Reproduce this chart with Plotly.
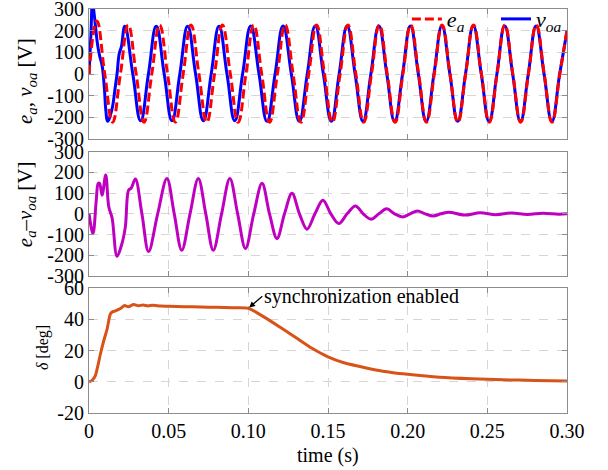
import plotly.graph_objects as go

# ---------------- data ----------------
# e_a (grid voltage) extrema / zero crossings
ea_t = [0, 0.0049, 0.0099, 0.0148, 0.0197, 0.0246, 0.0296, 0.0345, 0.0394, 0.0443,
        0.0493, 0.0542, 0.0591, 0.0640, 0.0690, 0.0739, 0.0788, 0.0837, 0.0887, 0.0936,
        0.0985, 0.1034, 0.1084, 0.1133, 0.1182, 0.1231, 0.1281, 0.1330, 0.1379, 0.1428,
        0.1478, 0.1527, 0.1576, 0.1625, 0.1675, 0.1724, 0.1773, 0.1822, 0.1872, 0.1921,
        0.1970, 0.2019, 0.2069, 0.2118, 0.2167, 0.2216, 0.2266, 0.2315, 0.2364, 0.2413,
        0.2463, 0.2512, 0.2561, 0.2610, 0.2660, 0.2709, 0.2758, 0.2807, 0.2857, 0.2906,
        0.2955, 0.3000]
ea_v = [0, 245, 0, -222,
        0, 226, 0, -222,
        0, 226, 0, -222,
        0, 226, 0, -222,
        0, 226, 0, -222,
        0, 226, 0, -222,
        0, 226, 0, -222,
        0, 226, 0, -222,
        0, 226, 0, -222,
        0, 226, 0, -222,
        0, 226, 0, -222,
        0, 226, 0, -222,
        0, 226, 0, -222,
        0, 226, 0, -222,
        0, 226, 0, -222,
        0, 200]

# v_oa (inverter voltage)
voa_t = [0, 0.0012, 0.0022, 0.0032, 0.0042, 0.0055, 0.0068, 0.0082, 0.0096, 0.0106,
         0.0117, 0.0132, 0.0148, 0.0163, 0.0176, 0.0190, 0.0203, 0.0225,
         0.0275, 0.0324, 0.0373, 0.0422, 0.0472, 0.0521, 0.0570, 0.0619, 0.0669, 0.0718,
         0.0767, 0.0816, 0.0866, 0.0915,
         0.0964, 0.1015, 0.1067, 0.1117, 0.1168, 0.1218, 0.1270, 0.1320, 0.1370, 0.1420,
         0.1471, 0.1521, 0.1570, 0.1620, 0.1670, 0.1720, 0.1769, 0.1819, 0.1869, 0.1918,
         0.1968, 0.2017, 0.2067, 0.2116, 0.2165, 0.2215, 0.2265, 0.2314, 0.2363, 0.2412,
         0.2462, 0.2511, 0.2560, 0.2609, 0.2659, 0.2708, 0.2757, 0.2806, 0.2856, 0.2905,
         0.2954, 0.3000]
voa_v = [0, 180, 330, 280, 210, 130, 80, 40, -60, -170,
         -218, -195, -150, -70, 0, 95, 125, 220,
         0, -215, 0, 220, 0, -215, 0, 220, 0, -215,
         0, 220, 0, -215,
         0, 222, 0, -218,
         0, 222, 0, -218,
         0, 222, 0, -218,
         0, 222, 0, -218,
         0, 222, 0, -218,
         0, 222, 0, -218,
         0, 222, 0, -218,
         0, 222, 0, -218,
         0, 222, 0, -218,
         0, 222, 0, -218,
         0, 200]

# e_a - v_oa
diff_t = [0, 0.0025, 0.0045, 0.0058, 0.0066, 0.0082, 0.0105, 0.0124, 0.0145, 0.0176,
          0.0207, 0.0228, 0.0249, 0.0264, 0.0291, 0.0332, 0.0374, 0.0431, 0.0489, 0.0535,
          0.0582, 0.0634, 0.0686, 0.0733, 0.0780, 0.0832, 0.0884, 0.0933, 0.0982, 0.1034,
          0.1086, 0.1133, 0.1180, 0.1227, 0.1274, 0.1321, 0.1368, 0.1418, 0.1468, 0.1518,
          0.1568, 0.1620, 0.1672, 0.1721, 0.1770, 0.1819, 0.1868, 0.1918, 0.1968, 0.2015,
          0.2061, 0.2110, 0.2160, 0.2209, 0.2258, 0.2357, 0.2455, 0.2554, 0.2652, 0.2751,
          0.2849, 0.2948, 0.3000]
diff_v = [0, -95, 60, 147, 148, 90, 187, 34, -20, -205,
          -143, -63, 115, 123, 168, 0, -182, 0, 170, 0,
          -176, 0, 170, 0, -176, 0, 170, 0, -167, 0,
          147, 0, -119, 0, 99, 0, -74, 0, 66, 0,
          -47, 0, 38, 0, -26, 0, 24, 0, -15, 0,
          14, 0, -10, 0, 8, -6, 5, -4, 4, -3,
          3, -2, 0]

# power angle delta [deg]
delta_t = [0, 0.002, 0.004, 0.0055, 0.0072, 0.0093, 0.0114, 0.0134, 0.0150, 0.0166,
           0.0197, 0.0222, 0.0247, 0.0280, 0.031, 0.034, 0.037, 0.040, 0.045, 0.05,
           0.06, 0.07, 0.08, 0.09, 0.10, 0.11, 0.12, 0.13, 0.14, 0.15,
           0.16, 0.17, 0.18, 0.19, 0.20, 0.22, 0.24, 0.26, 0.28, 0.30]
delta_v = [0, 1, 4, 10, 18, 26.5, 34, 43.5, 45, 45.5,
           47, 49, 48.2, 49.6, 48.8, 49.3, 48.7, 49.1, 48.6, 48.5,
           48.2, 48, 47.8, 47.5, 47.2, 41.5, 35, 28.3, 21.5, 16,
           12.2, 9.8, 7.6, 6, 4.8, 2.9, 1.9, 1.3, 0.9, 0.6]

x_ticks = [0, 0.05, 0.10, 0.15, 0.20, 0.25, 0.30]
x_tick_text = ['0', '0.05', '0.10', '0.15', '0.20', '0.25', '0.30']
v_ticks = [-300, -200, -100, 0, 100, 200, 300]
v_tick_text = ['-300', '-200', '-100', '0', '100', '200', '300']
d_ticks = [-20, 0, 20, 40, 60]
d_tick_text = ['-20', '0', '20', '40', '60']

# ---------------- figure ----------------
SERIF = 'Liberation Serif, Times New Roman, serif'
fig = go.Figure()

fig.add_trace(go.Scatter(x=voa_t, y=voa_v, mode='lines', name='<i>v<sub>oa</sub></i>',
                         line=dict(color='#0000FF', width=3, shape='spline', smoothing=1.3),
                         xaxis='x', yaxis='y', legend='legend2'))
fig.add_trace(go.Scatter(x=ea_t, y=ea_v, mode='lines', name='<i>e<sub>a</sub></i>',
                         line=dict(color='#FF0000', width=3, dash='9px,4px', shape='spline', smoothing=1.3),
                         xaxis='x', yaxis='y', legend='legend'))
fig.add_trace(go.Scatter(x=diff_t, y=diff_v, mode='lines', showlegend=False,
                         line=dict(color='#C000C0', width=3, shape='spline', smoothing=1.0),
                         xaxis='x2', yaxis='y2'))
fig.add_trace(go.Scatter(x=delta_t, y=delta_v, mode='lines', showlegend=False,
                         line=dict(color='#D95319', width=3, shape='spline', smoothing=0.6),
                         xaxis='x3', yaxis='y3'))

axis_common = dict(showline=True, linecolor='#8C8C8C', linewidth=1, mirror='ticks',
                   ticks='inside', ticklen=5, tickcolor='#8C8C8C',
                   showgrid=True, gridcolor='#D6D6D6', griddash='dash', gridwidth=1,
                   zeroline=False, ticklabeloverflow='allow',
                   tickfont=dict(family=SERIF, size=20, color='black'))

xcommon = dict(axis_common, range=[0, 0.3], tickmode='array', tickvals=x_ticks, ticktext=x_tick_text)

legend_common = dict(orientation='h', y=0.975, yanchor='middle',
                     bgcolor='rgba(0,0,0,0)', font=dict(family=SERIF, size=22, color='black'))

fig.update_layout(
    width=608, height=470,
    margin=dict(l=89, r=41, t=9, b=57, autoexpand=False),
    paper_bgcolor='white', plot_bgcolor='white',
    font=dict(family=SERIF, color='black'),
    xaxis=dict(xcommon, anchor='y', showticklabels=False),
    xaxis2=dict(xcommon, anchor='y2', showticklabels=False, matches='x'),
    xaxis3=dict(xcommon, anchor='y3', showticklabels=True, matches='x'),
    yaxis=dict(axis_common, domain=[0.678, 1.0], range=[-300, 300], tickmode='array',
               tickvals=v_ticks, ticktext=v_tick_text, anchor='x'),
    yaxis2=dict(axis_common, domain=[0.339, 0.647], range=[-300, 300], tickmode='array',
                tickvals=v_ticks, ticktext=v_tick_text, anchor='x2'),
    yaxis3=dict(axis_common, domain=[0.0, 0.3087], range=[-20, 60], tickmode='array',
                tickvals=d_ticks, ticktext=d_tick_text, anchor='x3'),
    legend=dict(legend_common, x=0.665, xanchor='left'),
    legend2=dict(legend_common, x=1.0, xanchor='right'),
    showlegend=True,
)

fig.add_annotation(text='<i>e<sub>a</sub></i>, <i>v<sub>oa</sub></i> [V]', xref='paper', yref='paper',
                   x=-0.1317, y=0.822, xanchor='center', yanchor='middle', textangle=-90,
                   showarrow=False, font=dict(family=SERIF, size=21, color='black'))
fig.add_annotation(text='<i>e<sub>a</sub></i>\u2013<i>v<sub>oa</sub></i> [V]', xref='paper', yref='paper',
                   x=-0.1317, y=0.517, xanchor='center', yanchor='middle', textangle=-90,
                   showarrow=False, font=dict(family=SERIF, size=21, color='black'))
fig.add_annotation(text='<i>\u03b4</i> [deg]', xref='paper', yref='paper',
                   x=-0.0972, y=0.162, xanchor='center', yanchor='middle', textangle=-90,
                   showarrow=False, font=dict(family=SERIF, size=16, color='black'))
fig.add_annotation(text='time (s)', xref='paper', yref='paper', x=0.5, y=-0.104,
                   xanchor='center', yanchor='middle', showarrow=False,
                   font=dict(family=SERIF, size=20, color='black'))
fig.add_annotation(text='synchronization enabled', xref='x3', yref='y3', x=0.1, y=47.2,
                   ax=14, ay=-12, xanchor='left', yanchor='middle', showarrow=True,
                   arrowhead=2, arrowsize=1, arrowwidth=1.2, arrowcolor='black', standoff=1,
                   font=dict(family=SERIF, size=20, color='black'))

# remove the default page margin so the figure sits at the window's top-left corner
fig.write_html('out.html', config={'displayModeBar': False},
               post_script="document.body.style.margin='0';")
